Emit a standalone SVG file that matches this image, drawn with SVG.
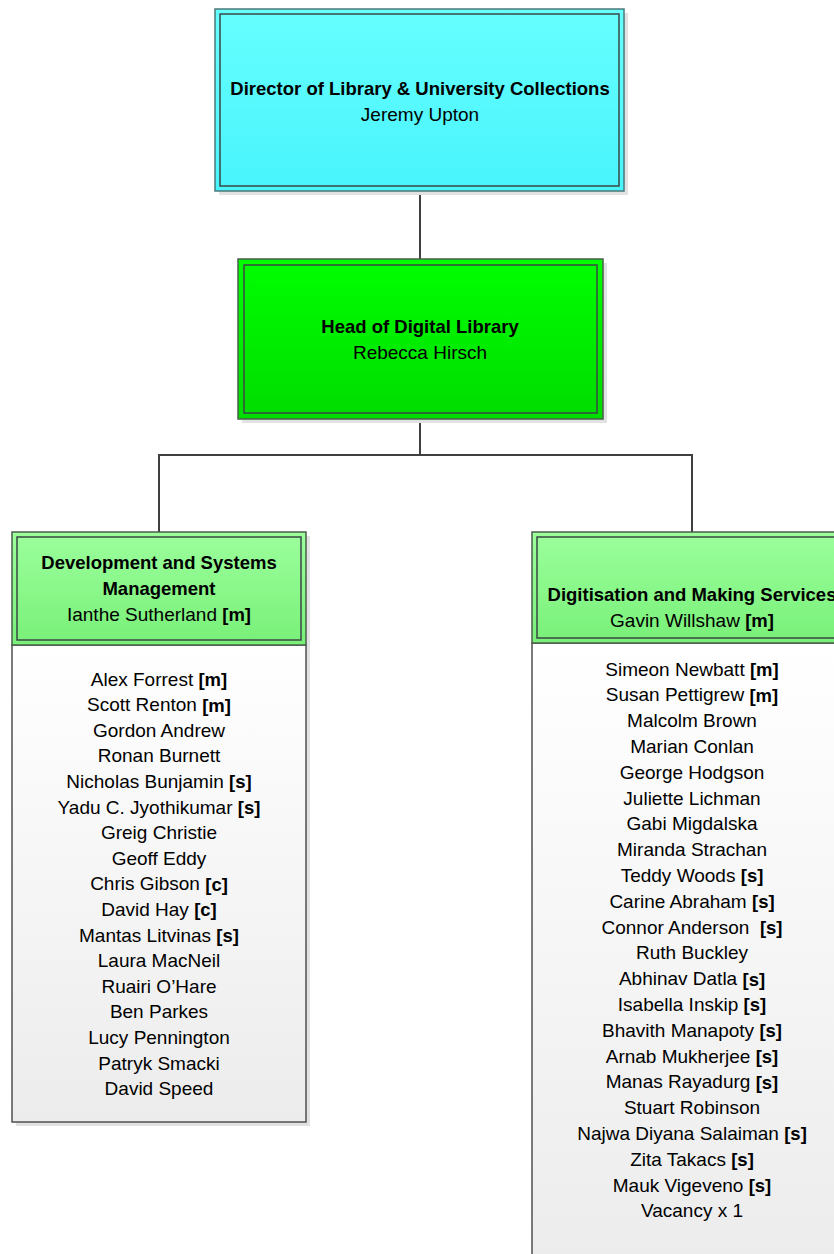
<svg xmlns="http://www.w3.org/2000/svg" width="834" height="1254" viewBox="0 0 834 1254">
<defs>
<linearGradient id="gCyan" x1="0" y1="0" x2="0" y2="1"><stop offset="0" stop-color="#66ffff"/><stop offset="1" stop-color="#48f4fc"/></linearGradient>
<linearGradient id="gGreen" x1="0" y1="0" x2="0" y2="1"><stop offset="0" stop-color="#00ff00"/><stop offset="1" stop-color="#00dc00"/></linearGradient>
<linearGradient id="gLight" x1="0" y1="0" x2="0" y2="1"><stop offset="0" stop-color="#9cff9c"/><stop offset="1" stop-color="#78f078"/></linearGradient>
<linearGradient id="gList" x1="0" y1="0" x2="0" y2="1"><stop offset="0" stop-color="#ffffff"/><stop offset="1" stop-color="#ececec"/></linearGradient>
<style>
.shadow{fill:#e2e2e2}
.outer{stroke:#4a7878;stroke-width:1.5}
.outerG{stroke:#4a5f4a;stroke-width:1.5}
.inner{fill:none;stroke:#3c4646;stroke-width:1.5}
.list{fill:url(#gList);stroke:#505050;stroke-width:1.5}
.conn{fill:none;stroke:#404040;stroke-width:2}
text{font-family:"Liberation Sans",Arial,sans-serif;font-size:19px;fill:#000;text-anchor:middle;dominant-baseline:central}
.b{font-weight:bold;font-size:18.5px}
</style>
</defs>
<g id="connectors">
<path class="conn" d="M420 191 V259"/>
<path class="conn" d="M420 419 V455 M159 455 H692 M159 454 V532 M692 454 V532"/>
</g>
<g id="director">
<rect class="shadow" x="219" y="13" width="409" height="182"/>
<rect class="outer" x="215" y="9" width="409" height="182" fill="url(#gCyan)"/>
<rect class="inner" x="220" y="14" width="399" height="172"/>
<text x="420" y="88" class="b">Director of Library &amp; University Collections</text>
<text x="420" y="114">Jeremy Upton</text>
</g>
<g id="head">
<rect class="shadow" x="242" y="263" width="365" height="160"/>
<rect class="outerG" x="238" y="259" width="365" height="160" fill="url(#gGreen)"/>
<rect class="inner" x="244" y="265" width="353" height="148"/>
<text x="420" y="326" class="b">Head of Digital Library</text>
<text x="420" y="352">Rebecca Hirsch</text>
</g>
<g id="dev">
<rect class="shadow" x="16" y="536" width="294" height="590"/>
<rect class="list" x="12" y="645" width="294" height="477"/>
<rect class="outerG" x="12" y="532" width="294" height="113" fill="url(#gLight)"/>
<rect class="inner" x="17" y="537" width="284" height="103"/>
<text x="159" y="562" class="b">Development and Systems</text>
<text x="159" y="588" class="b">Management</text>
<text x="159" y="614">Ianthe Sutherland <tspan class="b">[m]</tspan></text>
<text x="159" y="679">Alex Forrest <tspan class="b">[m]</tspan></text>
<text x="159" y="704.6">Scott Renton <tspan class="b">[m]</tspan></text>
<text x="159" y="730.2">Gordon Andrew</text>
<text x="159" y="755.8">Ronan Burnett</text>
<text x="159" y="781.4">Nicholas Bunjamin <tspan class="b">[s]</tspan></text>
<text x="159" y="807">Yadu C. Jyothikumar <tspan class="b">[s]</tspan></text>
<text x="159" y="832.6">Greig Christie</text>
<text x="159" y="858.2">Geoff Eddy</text>
<text x="159" y="883.8">Chris Gibson <tspan class="b">[c]</tspan></text>
<text x="159" y="909.4">David Hay <tspan class="b">[c]</tspan></text>
<text x="159" y="935">Mantas Litvinas <tspan class="b">[s]</tspan></text>
<text x="159" y="960.6">Laura MacNeil</text>
<text x="159" y="986.2">Ruairi O’Hare</text>
<text x="159" y="1011.8">Ben Parkes</text>
<text x="159" y="1037.4">Lucy Pennington</text>
<text x="159" y="1063">Patryk Smacki</text>
<text x="159" y="1088.6">David Speed</text>
</g>
<g id="digi">
<rect class="shadow" x="536" y="536" width="320" height="730"/>
<rect class="list" x="532" y="643" width="320" height="620"/>
<rect class="outerG" x="532" y="532" width="320" height="111" fill="url(#gLight)"/>
<rect class="inner" x="537" y="537" width="310" height="101"/>
<text x="692" y="594" class="b">Digitisation and Making Services</text>
<text x="692" y="620">Gavin Willshaw <tspan class="b">[m]</tspan></text>
<text x="692" y="669">Simeon Newbatt <tspan class="b">[m]</tspan></text>
<text x="692" y="694.8">Susan Pettigrew <tspan class="b">[m]</tspan></text>
<text x="692" y="720.6">Malcolm Brown</text>
<text x="692" y="746.4">Marian Conlan</text>
<text x="692" y="772.2">George Hodgson</text>
<text x="692" y="798">Juliette Lichman</text>
<text x="692" y="823.8">Gabi Migdalska</text>
<text x="692" y="849.6">Miranda Strachan</text>
<text x="692" y="875.4">Teddy Woods <tspan class="b">[s]</tspan></text>
<text x="692" y="901.2">Carine Abraham <tspan class="b">[s]</tspan></text>
<text x="692" y="927">Connor Anderson&#160; <tspan class="b">[s]</tspan></text>
<text x="692" y="952.8">Ruth Buckley</text>
<text x="692" y="978.6">Abhinav Datla <tspan class="b">[s]</tspan></text>
<text x="692" y="1004.4">Isabella Inskip <tspan class="b">[s]</tspan></text>
<text x="692" y="1030.2">Bhavith Manapoty <tspan class="b">[s]</tspan></text>
<text x="692" y="1056">Arnab Mukherjee <tspan class="b">[s]</tspan></text>
<text x="692" y="1081.8">Manas Rayadurg <tspan class="b">[s]</tspan></text>
<text x="692" y="1107.6">Stuart Robinson</text>
<text x="692" y="1133.4">Najwa Diyana Salaiman <tspan class="b">[s]</tspan></text>
<text x="692" y="1159.2">Zita Takacs <tspan class="b">[s]</tspan></text>
<text x="692" y="1185">Mauk Vigeveno <tspan class="b">[s]</tspan></text>
<text x="692" y="1210.8">Vacancy x 1</text>
</g>
</svg>
